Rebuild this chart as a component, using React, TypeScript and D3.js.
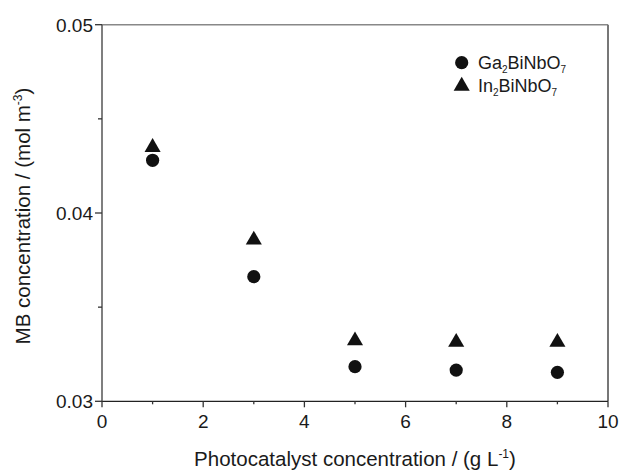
import React from "react";
import * as d3 from "d3";

const xValues = [1, 3, 5, 7, 9];
const gaValues = [0.0428, 0.03662, 0.03184, 0.03166, 0.03154];
const inValues = [0.04349, 0.03857, 0.03322, 0.03314, 0.03314];
const xTicks = [0, 2, 4, 6, 8, 10];
const xMinorTicks = [1, 3, 5, 7, 9];
const yTicks = [0.03, 0.04, 0.05];
const yMinorTicks = [0.035, 0.045];

const W = 623;
const H = 474;
const L = 102, R = 608, T = 24.7, B = 401.3;
const FONT = "'Liberation Sans', Arial, sans-serif";
const TXT = "#1a1a1a";

export default function App() {
  const x = d3.scaleLinear().domain([0, 10]).range([L, R]);
  const y = d3.scaleLinear().domain([0.03, 0.05]).range([B, T]);
  const tri = d3.symbol().type(d3.symbolTriangle).size(112)();
  const circ = d3.symbol().type(d3.symbolCircle).size(Math.PI * 6.6 * 6.6)();

  return (
    <svg width={W} height={H} style={{ position: "absolute", left: 0, top: 0, background: "#fff" }} fontFamily={FONT}>
      {/* frame */}
      <line x1={L} y1={T} x2={R} y2={T} stroke="#888" strokeWidth={1.5} />
      <line x1={R} y1={T} x2={R} y2={B} stroke="#777" strokeWidth={2} />
      <line x1={L} y1={B} x2={R} y2={B} stroke="#222" strokeWidth={1.3} />
      <line x1={L} y1={T} x2={L} y2={B} stroke="#555" strokeWidth={1.5} />

      {/* x ticks */}
      {xTicks.map((t) => (
        <g key={"xt" + t}>
          <line x1={x(t)} x2={x(t)} y1={B} y2={B + 6} stroke="#333" strokeWidth={1.3} />
          <text x={x(t)} y={B + 27} textAnchor="middle" fontSize={19} fill={TXT}>{t}</text>
        </g>
      ))}
      {xMinorTicks.map((t) => (
        <line key={"xm" + t} x1={x(t)} x2={x(t)} y1={B} y2={B + 3} stroke="#333" strokeWidth={1.3} />
      ))}

      {/* y ticks */}
      {yTicks.map((t) => (
        <g key={"yt" + t}>
          <line x1={L - 7} x2={L} y1={y(t)} y2={y(t)} stroke="#333" strokeWidth={1.3} />
          <text x={L - 9} y={y(t) + 7} textAnchor="end" fontSize={19} fill={TXT}>{t.toFixed(2)}</text>
        </g>
      ))}
      {yMinorTicks.map((t) => (
        <line key={"ym" + t} x1={L - 4} x2={L} y1={y(t)} y2={y(t)} stroke="#333" strokeWidth={1.3} />
      ))}

      {/* axis titles */}
      <text x={355} y={466} textAnchor="middle" fontSize={20.5} fill={TXT}>
        Photocatalyst concentration / (g L<tspan fontSize={12} dy={-8}>-1</tspan><tspan dy={8}>)</tspan>
      </text>
      <text transform={`translate(30,${216}) rotate(-90)`} textAnchor="middle" fontSize={20.5} fill={TXT}>
        MB concentration / (mol m<tspan fontSize={12} dy={-8}>-3</tspan><tspan dy={8}>)</tspan>
      </text>

      {/* data */}
      {xValues.map((v, i) => (
        <path key={"ga" + i} d={circ!} transform={`translate(${x(v)},${y(gaValues[i])})`} fill="#111" />
      ))}
      {xValues.map((v, i) => (
        <path key={"in" + i} d={tri!} transform={`translate(${x(v)},${y(inValues[i])})`} fill="#111" />
      ))}

      {/* legend */}
      <path d={circ!} transform={`translate(461.7,62.7)`} fill="#111" />
      <path d={tri!} transform={`translate(461.7,86)`} fill="#111" />
      <text x={478} y={69} fontSize={18} fill={TXT}>
        Ga<tspan fontSize={10} dy={4}>2</tspan><tspan dy={-4}>BiNbO</tspan><tspan fontSize={10} dy={4}>7</tspan>
      </text>
      <text x={478} y={92} fontSize={18} fill={TXT}>
        In<tspan fontSize={10} dy={4}>2</tspan><tspan dy={-4}>BiNbO</tspan><tspan fontSize={10} dy={4}>7</tspan>
      </text>
    </svg>
  );
}
